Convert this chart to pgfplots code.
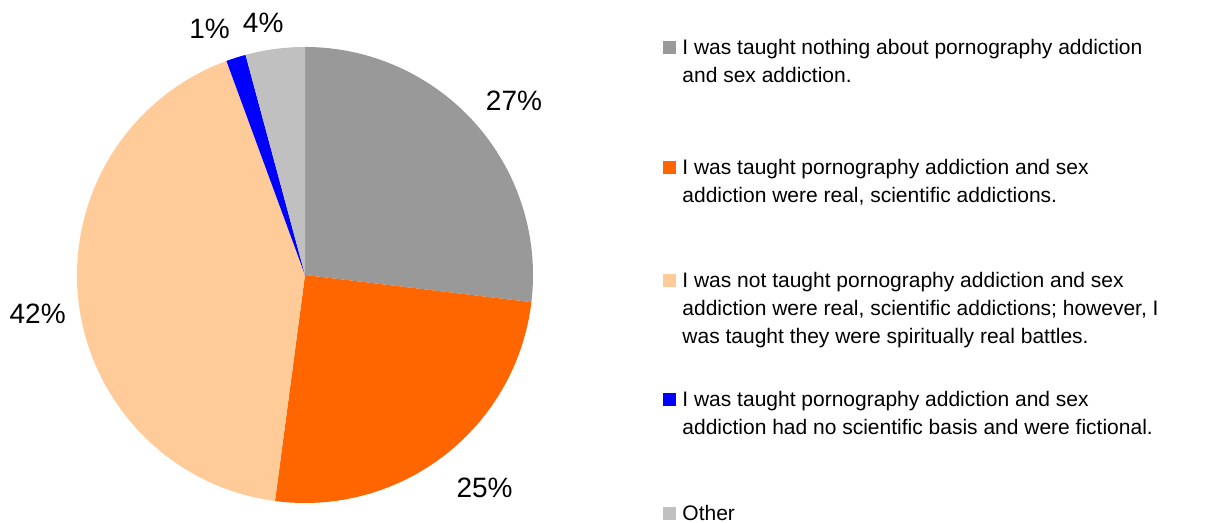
\documentclass[border=0pt]{standalone}
\usepackage{pgfplots}
\pgfplotsset{compat=1.18}
\usepackage{pgfplotstable}
\usepackage{fontspec}
\setmainfont{Liberation Sans}

\definecolor{sgray}{HTML}{999999}
\definecolor{sorange}{HTML}{FF6600}
\definecolor{speach}{HTML}{FFCC99}
\definecolor{sblue}{HTML}{0000FF}
\definecolor{sother}{HTML}{C0C0C0}

% share of answers (%), clockwise from 12 o'clock;
% lang/ldist = where the percentage label sits (degrees, radii)
\pgfplotstableread{
share color   lang   ldist
26.9  sgray   39.8   1.193
25.2  sorange -49.8  1.22
42.3  speach  188.3  1.185
1.4   sblue   111.2  1.158
4.2   sother  99.4   1.123
}\piedata

\def\pieR{114pt}

\begin{document}
\begin{tikzpicture}
\useasboundingbox (0,0) rectangle (606.5pt,261.5pt);
\begin{axis}[
  at={(152.5pt,124pt)}, anchor=center,
  scale only axis, x=114pt, y=114pt,
  xmin=-1, xmax=1, ymin=-1, ymax=1,
  hide axis, clip=false]
\pgfplotstablegetrowsof{\piedata}
\pgfmathtruncatemacro\lastrow{\pgfplotsretval-1}
\def\angA{90}
\pgfplotsforeachungrouped \i in {0,...,\lastrow}{
  \pgfplotstablegetelem{\i}{share}\of\piedata \let\share\pgfplotsretval
  \pgfplotstablegetelem{\i}{color}\of\piedata \let\col\pgfplotsretval
  \pgfplotstablegetelem{\i}{lang}\of\piedata \let\la\pgfplotsretval
  \pgfplotstablegetelem{\i}{ldist}\of\piedata \let\ld\pgfplotsretval
  \pgfmathsetmacro\angB{\angA-3.6*\share}
  \pgfmathtruncatemacro\lab{round(\share)}
  \edef\temp{%
    \noexpand\fill[\col] (axis cs:0,0) -- (axis cs:{cos(\angA)},{sin(\angA)})
      arc[start angle=\angA, end angle=\angB, radius=\noexpand\pieR] -- cycle;
    \noexpand\node[font=\noexpand\fontsize{14}{16}\noexpand\selectfont]
      at (axis cs:{\ld*cos(\la)},{\ld*sin(\la)}) {\lab\noexpand\%};
  }
  \temp
  \global\let\angA\angB
}
\end{axis}

% legend
\begin{scope}[every node/.style={anchor=base west, inner sep=0pt,
    font=\fontsize{10.5}{14}\selectfont}]
\fill[sgray]   (331.25pt,234pt+0.4pt)   rectangle ++(6.5pt,6.5pt);
\node at (341pt,234pt) {I was taught nothing about pornography addiction};
\node at (341pt,220pt) {and sex addiction.};
\fill[sorange] (331.25pt,174pt+0.4pt)   rectangle ++(6.5pt,6.5pt);
\node at (341pt,174pt) {I was taught pornography addiction and sex};
\node at (341pt,160pt) {addiction were real, scientific addictions.};
\fill[speach]  (331.25pt,117.5pt+0.4pt) rectangle ++(6.5pt,6.5pt);
\node at (341pt,117.5pt) {I was not taught pornography addiction and sex};
\node at (341pt,103.5pt) {addiction were real, scientific addictions; however, I};
\node at (341pt,89.5pt)  {was taught they were spiritually real battles.};
\fill[sblue]   (331.25pt,58pt+0.4pt)    rectangle ++(6.5pt,6.5pt);
\node at (341pt,58pt) {I was taught pornography addiction and sex};
\node at (341pt,44pt) {addiction had no scientific basis and were fictional.};
\fill[sother]  (331.25pt,1pt+0.4pt)     rectangle ++(6.5pt,6.5pt);
\node at (341pt,1pt) {Other};
\end{scope}
\end{tikzpicture}
\end{document}
